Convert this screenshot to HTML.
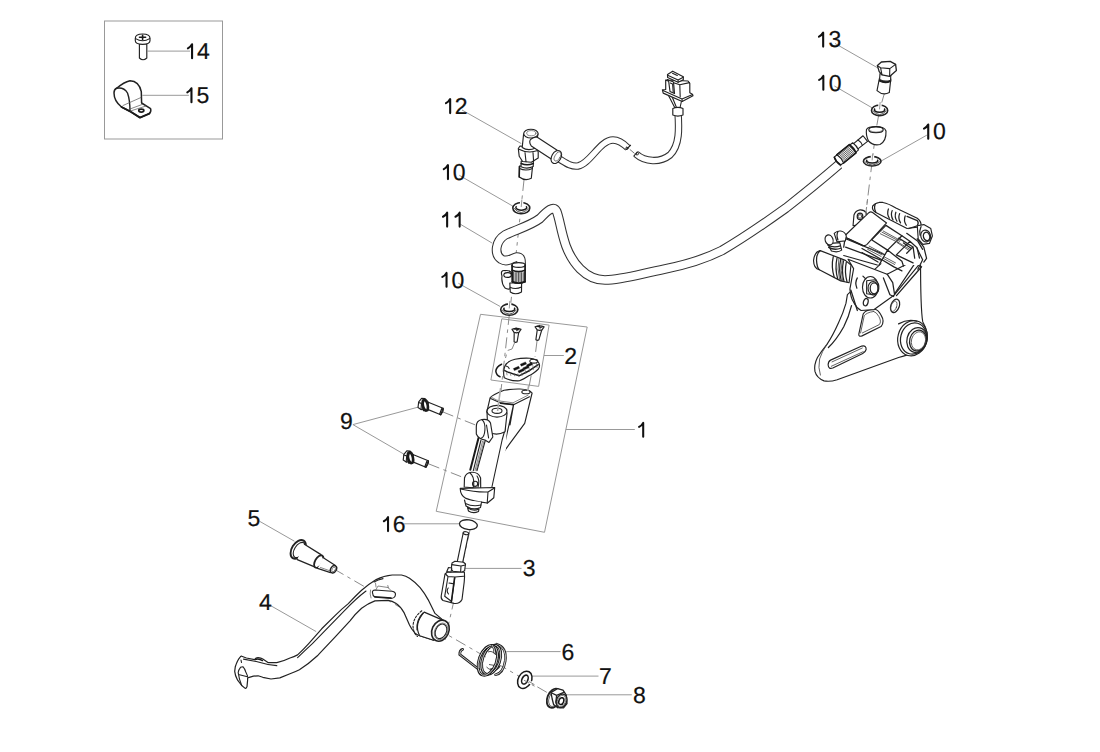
<!DOCTYPE html>
<html><head><meta charset="utf-8">
<style>
html,body{margin:0;padding:0;background:#fff;}
body{width:1100px;height:752px;overflow:hidden;}
svg{display:block;}
text{font-family:"Liberation Sans",sans-serif;font-size:23px;text-rendering:geometricPrecision;fill:#111;stroke:#111;stroke-width:0.2;}
.one{fill:none;stroke:#111;stroke-width:2.1;stroke-linecap:round;stroke-linejoin:round;}
.ld{stroke:#999;stroke-width:1;fill:none;}
.bx{stroke:#999;stroke-width:1;fill:none;}
.p{stroke:#222;stroke-width:1.15;fill:#fff;stroke-linejoin:round;stroke-linecap:round;}
.pn{stroke:#222;stroke-width:1.1;fill:none;stroke-linejoin:round;stroke-linecap:round;}
.pt{stroke:#555;stroke-width:0.7;fill:none;stroke-linejoin:round;stroke-linecap:round;}
.pk{stroke:#1a1a1a;stroke-width:1.6;fill:none;stroke-linejoin:round;stroke-linecap:round;}
.cal .pn{stroke-width:1.25;}
.cal .pt{stroke-width:0.85;stroke:#444;}
.ax{stroke:#8a8a8a;stroke-width:1;fill:none;stroke-dasharray:11 4.5 3.5 4.5;}
</style></head>
<body>
<svg width="1100" height="752" viewBox="0 0 1100 752">
<rect x="0" y="0" width="1100" height="752" fill="#fff"/>
<rect class="bx" x="104.5" y="21" width="118" height="118"/>
<polygon class="bx" points="480.5,314.3 587.2,327 544.5,532.3 436.2,511.3"/>
<polygon class="bx" points="501.8,318.8 549.1,325.1 538.6,386.4 490.9,380"/>
<g class="ax">
<path d="M884.8,92 L879.6,110 L876,130 L872.2,161 L865.5,216"/>
<path d="M524,180 L509,320"/>
<path d="M509.4,314 L499.5,404"/>
<path d="M443,412 L478,426"/>
<path d="M429,464 L462,477"/>
<path d="M470,530 L445,640"/>
<path d="M334,569 L560,700"/>
</g>
<path d="M839,164.5 C828,174 800,197 785.7,208.2 C765,223 740,240 721.9,250.5 C705,259 690,264 665,269 C640,274 622,280 605,280 C585,280 572,262 566,246 C561,232 559.5,218 556.5,211 C553.5,205.5 548,210 540,218.5 C530,226 515,230 505,235 C495.5,241 493.8,254 501.2,259.2 C507.5,263 512,258 517,257 C522,257 521,262 521,266" fill="none" stroke="#333" stroke-width="9.7" stroke-linecap="butt" stroke-linejoin="round"/><path d="M839,164.5 C828,174 800,197 785.7,208.2 C765,223 740,240 721.9,250.5 C705,259 690,264 665,269 C640,274 622,280 605,280 C585,280 572,262 566,246 C561,232 559.5,218 556.5,211 C553.5,205.5 548,210 540,218.5 C530,226 515,230 505,235 C495.5,241 493.8,254 501.2,259.2 C507.5,263 512,258 517,257 C522,257 521,262 521,266" fill="none" stroke="#fff" stroke-width="7.6" stroke-linecap="butt" stroke-linejoin="round"/>
<path d="M556,157 C565,162 570,167 578,166 C590,164 600,140 613,140 C620,140 625,145 628,148" fill="none" stroke="#333" stroke-width="7.4" stroke-linecap="butt" stroke-linejoin="round"/><path d="M556,157 C565,162 570,167 578,166 C590,164 600,140 613,140 C620,140 625,145 628,148" fill="none" stroke="#fff" stroke-width="5.3" stroke-linecap="butt" stroke-linejoin="round"/>
<path d="M636,154 C645,162 660,163 670,155 C680,145 679,128 678,112" fill="none" stroke="#333" stroke-width="7.4" stroke-linecap="butt" stroke-linejoin="round"/><path d="M636,154 C645,162 660,163 670,155 C680,145 679,128 678,112" fill="none" stroke="#fff" stroke-width="5.3" stroke-linecap="butt" stroke-linejoin="round"/>
<path d="M626.5,146.8 L628.5,148.3 M629.8,149.4 L634.5,153.4 M635.5,154.2 L637,155.3" stroke="#777" stroke-width="1" fill="none"/>
<path d="M630.8,145 L626.2,149.6 M637.6,151.5 L633.6,156.4" stroke="#222" stroke-width="1.1" fill="none"/>
<circle cx="626.9" cy="148.3" r="1.1" fill="none" stroke="#222" stroke-width="1"/>
<circle cx="637.4" cy="153.7" r="1.1" fill="none" stroke="#222" stroke-width="1"/>
<g class="ld">
<line x1="147.6" y1="51.1" x2="190" y2="51.1"/>
<line x1="142.4" y1="95.3" x2="188.9" y2="95.3"/>
<line x1="835" y1="43.5" x2="878.6" y2="68.4"/>
<line x1="834.4" y1="86" x2="872.6" y2="108.1"/>
<line x1="926.9" y1="135.1" x2="881.2" y2="161"/>
<line x1="462" y1="110" x2="521.3" y2="143.6"/>
<line x1="459.3" y1="175.3" x2="512.6" y2="206"/>
<line x1="460.3" y1="224.2" x2="492.3" y2="243.2"/>
<line x1="458.4" y1="283.3" x2="500.2" y2="306.5"/>
<line x1="544" y1="355.5" x2="563.8" y2="355.5"/>
<line x1="565.9" y1="429.5" x2="634.8" y2="429.5"/>
<line x1="352.9" y1="424.6" x2="418.6" y2="407"/>
<line x1="352.9" y1="424.6" x2="405.7" y2="455.2"/>
<line x1="404.2" y1="523.8" x2="459.3" y2="523.8"/>
<line x1="259.6" y1="521.3" x2="294.4" y2="541.2"/>
<line x1="465.1" y1="568.4" x2="521.5" y2="568.4"/>
<line x1="270.6" y1="605.6" x2="316.2" y2="631.6"/>
<line x1="506.3" y1="651.6" x2="560.6" y2="651.6"/>
<line x1="532.5" y1="676.1" x2="598.5" y2="676.1"/>
<line x1="566.3" y1="694.8" x2="631.8" y2="694.8"/>
</g>
<g>
<path class="p" d="M139.4,44 V58 Q143,61.5 146.8,58 V44 Z"/>
<path class="p" d="M135.3,38.2 Q135.3,34 142.6,34 Q150,34 150,38.2 V40.8 Q150,44.3 142.6,44.3 Q135.3,44.3 135.3,40.8 Z"/>
<path class="pn" d="M135.6,38.6 Q142.6,43 149.7,38.6"/>
<path class="pk" d="M139.5,37.3 H145.6 M142.6,35.3 V39.5"/>
<path class="p" d="M116.6,88.3 Q124,82 130,80.7 Q139,81 141.3,91.6 L141.6,103 L150.6,108.6 Q151.5,111.5 149.3,113.6 L140,117.6 L130,111.3 L121.5,107 Q114,101 114,93 Q114,89.5 116.6,88.3 Z" style="stroke-width:1.5"/>
<path class="pn" d="M116.6,88.3 Q124,87 127.5,93 Q130,100 130,111.3" style="stroke-width:1.4"/>
<path class="pk" d="M121.5,107 L130,111.3 L140,117.6 L149.3,113.6" style="stroke-width:1.9"/>
<path class="pt" d="M123,105.5 L141,97.5 M130,109 L142.6,104.3 M130.5,111 L146,106"/>
<ellipse class="pk" cx="141.3" cy="110.6" rx="2.6" ry="1.5"/>
</g>
<g>
<path class="p" d="M879.5,78 L877,90.6 Q883,96 889.3,92.6 L890.8,79 Z"/>
<path class="pn" d="M879.3,81 Q885,84 890.6,81.5"/>
<path class="pk" d="M879.6,80.2 Q885,82.8 890.6,80.8"/>
<path class="p" d="M880,73.5 L879.6,79.5 Q885,82.5 890.6,80.2 L890.8,74.5 Z"/>
<path class="p" d="M877.4,65.6 L881.4,62 L890.2,61.4 L895.6,64.4 L896.4,70.6 L889.6,76.4 L882,74.8 L879.2,71.6 Z" style="stroke-width:1.3"/>
<path class="pn" d="M877.4,65.6 L880.6,67.8 L889.8,68.6 L895.6,64.4 M880.6,67.8 L882,74.8 M889.8,68.6 L889.6,76.4" style="stroke-width:1.1"/>
<ellipse cx="879.6" cy="110.4" rx="8.1" ry="5.3" fill="#fff" stroke="#222" stroke-width="1.6"/><path d="M872.80,110.60 Q879.60,118.62 886.40,110.60" fill="none" stroke="#444" stroke-width="0.9"/><ellipse cx="879.60" cy="109.87" rx="5.18" ry="2.38" fill="#fff" stroke="none"/><path d="M875.11,108.68 A5.18,2.38 0 1 0 884.09,108.68" fill="none" stroke="#1a1a1a" stroke-width="1.5"/><rect x="878.25" y="103.90" width="3.4" height="2.92" fill="#fff"/><line x1="880.16" y1="102.10" x2="879.53" y2="109.34" stroke="#999" stroke-width="1"/>
<g transform="translate(837.3,161.2) rotate(-39)">
<path class="p" d="M23,-3.4 L36,-3.6 L36,3.6 L23,3.4 Z"/>
<path class="pn" d="M29.5,-3.5 Q30.8,0 29.5,3.5"/>
<path class="p" d="M19.5,-4.7 L23.6,-4.6 Q24.8,0 23.6,4.6 L19.5,4.7 Z"/>
<path class="p" d="M3.6,-5.3 L19.8,-5.3 L19.8,5.3 L3.6,5.3 Z"/>
<line class="pt" x1="5" y1="-3.8" x2="18.8" y2="-3.8" style="stroke:#444;stroke-width:0.8"/>
<line class="pt" x1="5" y1="-2.3" x2="18.8" y2="-2.3" style="stroke:#444;stroke-width:0.8"/>
<line class="pt" x1="5" y1="-0.8" x2="18.8" y2="-0.8" style="stroke:#444;stroke-width:0.8"/>
<line class="pt" x1="5" y1="0.7" x2="18.8" y2="0.7" style="stroke:#444;stroke-width:0.8"/>
<line class="pt" x1="5" y1="2.2" x2="18.8" y2="2.2" style="stroke:#444;stroke-width:0.8"/>
<line class="pt" x1="5" y1="3.7" x2="18.8" y2="3.7" style="stroke:#444;stroke-width:0.8"/>
<path class="pk" d="M3.6,-5.3 L19.8,-5.3 M19.8,-5.3 Q21.6,0 19.8,5.3 L3.6,5.3" style="stroke-width:1.5"/>
<path class="p" d="M0.2,-5 L3.8,-5.2 Q5.4,0 3.8,5.2 L0.2,5 Q-1.6,0 0.2,-5 Z"/>
<path class="pk" d="M0.2,-5 Q-1.6,0 0.2,5" style="stroke-width:1.6"/>
</g>
<path class="p" d="M866.5,129.5 Q868,126.5 876,126.5 Q884.5,126.5 886,131 Q886.5,141 880,144.5 Q873,146 868.5,141 Q865.6,135 866.5,129.5 Z"/>
<ellipse class="pk" cx="876" cy="129.8" rx="7.2" ry="2.9" style="stroke-width:1.2"/>
<path class="pt" d="M869.5,130.5 Q876,134 882.5,130.5"/>
<ellipse cx="872.2" cy="161.3" rx="8.8" ry="4.7" fill="#fff" stroke="#222" stroke-width="1.6"/><path d="M864.70,161.50 Q872.20,168.59 879.70,161.50" fill="none" stroke="#444" stroke-width="0.9"/><ellipse cx="872.20" cy="160.83" rx="5.63" ry="2.12" fill="#fff" stroke="none"/><path d="M867.32,159.77 A5.63,2.12 0 1 0 877.08,159.77" fill="none" stroke="#1a1a1a" stroke-width="1.5"/><rect x="870.80" y="155.40" width="3.4" height="2.59" fill="#fff"/><line x1="872.68" y1="153.60" x2="872.14" y2="160.36" stroke="#999" stroke-width="1"/>
</g>
<g>
<path class="p" d="M519.6,166 L519.3,177 Q525,181.5 531.3,178.2 L532.6,166 Z"/>
<path class="pn" d="M519.5,168.5 Q526,171.5 532.4,168.4"/>
<path class="pk" d="M519.4,166.6 L519.2,177"/>
<path class="p" d="M521.2,161 L521,166.8 Q527,169.5 533.2,166.6 L533.4,161 Z"/>
<path class="pk" d="M521.2,163.5 Q527,166 533.3,163.5"/>
<path class="p" d="M520,146 L518.3,148.5 L519.2,156.3 L522.6,161.5 L531.3,162.3 L538.2,158 L538.2,152 L536.6,147.5 Z"/>
<path class="pn" d="M519,149.2 Q528,154 537.8,150.6 M525,152.5 L526,161.8 M533,152.5 L533.6,161.3"/>
<path class="p" d="M523.6,134 L522.2,147.5 Q528,151.5 535.5,148 L538,134 Z"/>
<ellipse class="p" cx="530.9" cy="133.6" rx="7.2" ry="4.4"/>
<ellipse class="pt" cx="531.3" cy="133.2" rx="4.6" ry="2.6"/>
<path class="p" d="M537.3,137.3 L557.2,150.2 L551.2,158.9 L531.3,146 Q528,141 531.5,138.8 Q534,136.5 537.3,137.3 Z"/>
<ellipse class="p" cx="556.3" cy="157" rx="4.6" ry="7" transform="rotate(30 556.3 157)"/>
<ellipse class="pt" cx="557.6" cy="156.4" rx="2.6" ry="5.2" transform="rotate(30 557.6 156.4)"/>
<path class="pn" d="M668.5,95.5 L676,110 M672,96.5 L677.5,110 M681.4,101.5 L679.5,110"/>
<path class="p" d="M672.8,108.5 Q677.8,106.3 683,108.5 L683,115 Q677.8,117.2 672.8,115 Z"/>
<path class="p" d="M665.7,80 L688,81 L689.8,83.3 L689.8,92.8 L692.4,94.2 L693,95.7 L682.2,101.5 L663.2,93.1 L662.4,89.9 L665.7,89.5 Z"/>
<path class="pn" d="M663,90.5 L682,99 L692.6,94.6 M682,99 L682.2,101.5 M679.8,84.8 L680.2,96.8 M679.8,84.8 L689.5,82.6 M665.8,80.2 L679.8,84.8"/>
<path class="p" d="M667.5,74.5 L672.7,71.2 L683.3,76.7 L683.3,79.9 L678.1,82.2 L667.6,77.5 Z"/>
<path class="pn" d="M667.6,75.3 L678.1,80 L683.2,77.2 M678.1,80 L678.1,82.2 M672.5,73.2 L677.3,75.5"/>
<path class="p" d="M667.4,79.5 L668.5,80 L670,91.5 L674.5,93.6 L673.5,82 L669.7,80.5"/>
<path class="pn" d="M670.3,83 L672.6,83.9 L673.2,92"/>
<ellipse cx="521.3" cy="208.1" rx="8.5" ry="5.6" fill="#fff" stroke="#222" stroke-width="1.6"/><path d="M514.10,208.30 Q521.30,216.78 528.50,208.30" fill="none" stroke="#444" stroke-width="0.9"/><ellipse cx="521.30" cy="207.54" rx="5.44" ry="2.52" fill="#fff" stroke="none"/><path d="M516.59,206.28 A5.44,2.52 0 1 0 526.01,206.28" fill="none" stroke="#1a1a1a" stroke-width="1.5"/><rect x="519.95" y="201.30" width="3.4" height="3.08" fill="#fff"/><line x1="521.86" y1="199.50" x2="521.23" y2="206.98" stroke="#999" stroke-width="1"/>
<ellipse cx="509.3" cy="309.6" rx="8.6" ry="5.7" fill="#fff" stroke="#222" stroke-width="1.6"/><path d="M502.00,309.80 Q509.30,318.44 516.60,309.80" fill="none" stroke="#444" stroke-width="0.9"/><ellipse cx="509.30" cy="309.03" rx="5.50" ry="2.56" fill="#fff" stroke="none"/><path d="M504.53,307.75 A5.50,2.56 0 1 0 514.07,307.75" fill="none" stroke="#1a1a1a" stroke-width="1.5"/><rect x="507.95" y="302.70" width="3.4" height="3.14" fill="#fff"/><line x1="509.86" y1="300.90" x2="509.23" y2="308.46" stroke="#999" stroke-width="1"/>
<path class="p" d="M502,276 Q500,270 505,270.6 Q511,270 512.5,275 L513,287 Q509,290.5 505,288 Q501,283 502,276 Z"/>
<ellipse class="pk" cx="507.6" cy="275" rx="3.8" ry="2.4" style="stroke-width:1.1"/>
<path class="p" d="M509.8,283 L510.3,292 Q515.5,295.5 521.5,292 L521.6,283 Z"/>
<path class="pn" d="M510,287.2 Q515.5,290 521.5,287"/>
<path class="p" d="M512,265 L512.3,282 Q518.5,285 525,282 L525.2,265 Z"/>
<ellipse class="p" cx="518.6" cy="265" rx="6.6" ry="2.4"/>
<path class="pk" d="M512.2,270.2 Q518.6,273 525.1,270.2"/>
<line x1="513.6" y1="271.6" x2="513.6" y2="281.6" stroke="#333" stroke-width="0.9"/>
<line x1="515.2" y1="272.2" x2="515.2" y2="282.4" stroke="#333" stroke-width="0.9"/>
<line x1="516.8" y1="272.2" x2="516.8" y2="282.4" stroke="#333" stroke-width="0.9"/>
<line x1="518.4" y1="272.2" x2="518.4" y2="282.4" stroke="#333" stroke-width="0.9"/>
<line x1="520.0" y1="272.2" x2="520.0" y2="282.4" stroke="#333" stroke-width="0.9"/>
<line x1="521.6" y1="272.2" x2="521.6" y2="282.4" stroke="#333" stroke-width="0.9"/>
<line x1="523.2" y1="272.2" x2="523.2" y2="282.4" stroke="#333" stroke-width="0.9"/>
<line x1="524.8" y1="271.6" x2="524.8" y2="281.6" stroke="#333" stroke-width="0.9"/>
<path class="pk" d="M512.1,265 L512.3,282 M525.1,265 L525,282" style="stroke-width:1.5"/>
<path class="pk" d="M512.3,281.5 Q518.6,284.5 525,281.5"/>
</g>
<g>
<path class="p" d="M514.2,332.0 L514.1,341.8 Q515.6,343.1 517.1,341.8 L518.8,332.0 Z"/>
<path class="p" d="M512.0,329.3 Q516.5,327.5 521.0,329.3 L518.9,332.3 Q516.5,333.3 514.1,332.3 Z"/>
<path class="pk" d="M514.0,328.9 L519.0,329.7 M516.0,327.9 L517.0,330.7" style="stroke-width:1.1"/>
<path class="p" d="M537.3000000000001,329.5 L535.9,339.7 Q537.4,341.0 538.9,339.7 L541.9,329.5 Z"/>
<path class="p" d="M535.1,326.8 Q539.6,325 544.1,326.8 L542.0,329.8 Q539.6,330.8 537.2,329.8 Z"/>
<path class="pk" d="M537.1,326.4 L542.1,327.2 M539.1,325.4 L540.1,328.2" style="stroke-width:1.1"/>
<path class="ax" d="M514.5,343 L512,349 L507.5,350.5 L505,360"/>
<path class="ax" d="M537,341 L535,357 M531.2,375.5 L528.4,390"/>
<path class="p" d="M504.2,368.5 Q505.5,361.5 515,359.2 Q522,357.8 529.8,358.2 Q536.5,358.8 539,363.2 Q540.3,366.5 538.4,369 Q533,374.2 528.8,375.8 Q523,379.6 519.5,380.8 Q511.5,381.2 504.3,377.8 Q503,373 504.2,368.5 Z"/>
<path d="M507.5,360.6 L506,362" stroke="#fff" stroke-width="2.2" fill="none"/>
<path class="pk" d="M504.8,370.6 Q511,373.8 519.5,375.7 Q529,371.5 538.2,364.6" style="stroke-width:1.4"/>
<line x1="506.5" y1="372.3" x2="507.1" y2="375.3" stroke="#666" stroke-width="0.7"/>
<line x1="510.2" y1="372.7" x2="510.9" y2="375.8" stroke="#666" stroke-width="0.7"/>
<line x1="514.0" y1="373.1" x2="514.6" y2="376.2" stroke="#666" stroke-width="0.7"/>
<line x1="517.8" y1="373.5" x2="518.4" y2="376.7" stroke="#666" stroke-width="0.7"/>
<line x1="521.5" y1="372.7" x2="522.1" y2="376.1" stroke="#666" stroke-width="0.7"/>
<line x1="525.2" y1="370.2" x2="525.9" y2="374.1" stroke="#666" stroke-width="0.7"/>
<line x1="529.0" y1="367.7" x2="529.6" y2="372.1" stroke="#666" stroke-width="0.7"/>
<line x1="532.8" y1="365.2" x2="533.4" y2="370.1" stroke="#666" stroke-width="0.7"/>
<line x1="536.5" y1="362.7" x2="537.1" y2="368.1" stroke="#666" stroke-width="0.7"/>
<path class="pk" d="M501.6,364.2 Q496.2,366.8 495.8,371.2 Q496.4,375.5 500,376.8" style="stroke-width:1.5"/>
<path class="pn" d="M506,366 Q508.5,366.6 509.2,368.6"/>
<ellipse class="pn" cx="533.8" cy="361.2" rx="4" ry="1.9"/>
<path d="M513.4,368.6 l5.2,-2.3 l1.0,2.0 l-5.2,2.3 Z" fill="#111" stroke="#111" stroke-width="0.4"/>
<path d="M520.3,364.2 l5.2,-2.3 l1.0,2.0 l-5.2,2.3 Z" fill="#111" stroke="#111" stroke-width="0.4"/>
<path d="M526.5,364.9 l5.2,-2.3 l1.0,2.0 l-5.2,2.3 Z" fill="#111" stroke="#111" stroke-width="0.4"/>
<path d="M518.0,370.9 l5.2,-2.3 l1.0,2.0 l-5.2,2.3 Z" fill="#111" stroke="#111" stroke-width="0.4"/>
<path d="M522.9,367.9 l5.2,-2.3 l1.0,2.0 l-5.2,2.3 Z" fill="#111" stroke="#111" stroke-width="0.4"/>
<path class="p" d="M490.1,397.8 Q492,395 504,390.3 Q512,388.8 520,389 Q529.5,389.3 532.1,393 L524.7,423.3 L506,448.8 L500.7,457.3 L486.9,411.6 Z"/>
<path class="pn" d="M490.6,398.5 L500.7,403.1 L513.5,404.7 L529.5,396.7 M513.5,404.7 L500.7,461.6 M513.5,405.5 L510,425"/>
<path class="pt" d="M491.5,397.3 Q497,400.8 501,401.2 L513,402.8 L528,395.2"/>
<ellipse class="pn" cx="526" cy="392" rx="4.2" ry="1.8"/>
<path d="M487.5,412 L478.5,436 L468,480 L470,490 L494,490 L506,448.8 L507.1,412.7 Z" fill="#fff" stroke="none"/>
<path class="pn" d="M505.5,428 L502.1,440 L491.9,487"/>
<path class="pk" d="M478.5,438 L470.3,469.8" style="stroke-width:2"/>
<path class="pn" d="M481,440 L473.3,470.7 M485.4,440 L477,470.7"/>
<path class="pt" d="M482.6,441 L475,470.5 M484,441 L476.2,470.5"/>
<path class="p" d="M487,411.6 L487.8,431.5 Q496,436.6 505,431.8 L507.1,412.7 Z"/>
<ellipse class="p" cx="497" cy="411.2" rx="10" ry="5.9"/>
<ellipse class="pn" cx="497" cy="410.8" rx="5" ry="2.6"/>
<path class="p" d="M476.3,427 Q476,420.5 482,419.5 Q488.5,418.5 490.5,423 L492.8,437 L489,442.4 L485,440 Q478.5,439 476.3,434 Z"/>
<path class="pn" d="M482,419.8 Q485.5,422.5 484.9,430 Q484.4,437 481.5,438 M486.5,425 L488.6,438"/>
<path class="p" d="M464.5,478 Q466,472.5 471.5,472.3 Q478.5,472 480.6,478 L480.7,488.5 L464.2,487 Z"/>
<path class="pn" d="M470,473 Q474,476 473.8,484 Q473.5,489 471,489.5 M477,476 Q480,480 478,487"/>
<circle class="pn" cx="475.1" cy="483.8" r="2.6"/>
<path class="p" d="M460.2,488.4 L494.7,487.5 L493.8,497.7 L487.5,503 Q474,501.5 466,498.4 Q460.4,495.5 460.2,488.4 Z"/>
<path class="pn" d="M460.5,489 Q476,492.5 488,492 L494.5,488 M488,492 L487.2,503.3"/>
<path class="p" d="M464.5,500 L466,506 Q473,511 480.5,507.5 L481.5,502"/>
<path class="pn" d="M465.5,503.5 Q472.5,507 481,505"/>
<path class="p" d="M467.5,507.5 Q473,512 479,509 L478.5,511.5 Q473,514 468.5,511 Z"/>
<path d="M500.6,388 L497.6,411" stroke="#aaa" stroke-width="1.6" fill="none"/>
<path d="M528.8,385 L527.8,391" stroke="#aaa" stroke-width="1.6" fill="none"/>
<path class="pk" d="M500.7,403.1 L513.5,404.7" style="stroke-width:1.7"/>
<g transform="translate(0,0)">
<path class="p" d="M428.3,402.2 L443.1,408.3 L440.7,414.8 L425.8,408.6 Z"/>
<path class="pk" d="M441.8,408.5 L439.6,414.3 M443.1,408.3 Q444,411 440.7,414.8" style="stroke-width:1.2"/>
<path class="p" d="M418,407.6 L418.7,401.8 L421.6,398.3 L425,398.6 L425.2,408.8 L421,409.6 Z"/>
<path class="pn" d="M418.5,402.5 L421.5,403.4 L425,403 M421.5,403.4 L421,409.4"/>
<ellipse class="pk" cx="425.3" cy="405.2" rx="2.4" ry="5.5" transform="rotate(-12 425.3 405.2)" style="stroke-width:2.6;fill:#fff"/>
<path class="pk" d="M424,400.5 Q421.8,405 423.6,410.5" style="stroke-width:1.6"/>
<path class="pn" d="M426.5,400.5 Q428.6,402 428.3,404"/>
</g>
<g transform="translate(-14.8,52.5)">
<path class="p" d="M428.3,402.2 L443.1,408.3 L440.7,414.8 L425.8,408.6 Z"/>
<path class="pk" d="M441.8,408.5 L439.6,414.3 M443.1,408.3 Q444,411 440.7,414.8" style="stroke-width:1.2"/>
<path class="p" d="M418,407.6 L418.7,401.8 L421.6,398.3 L425,398.6 L425.2,408.8 L421,409.6 Z"/>
<path class="pn" d="M418.5,402.5 L421.5,403.4 L425,403 M421.5,403.4 L421,409.4"/>
<ellipse class="pk" cx="425.3" cy="405.2" rx="2.4" ry="5.5" transform="rotate(-12 425.3 405.2)" style="stroke-width:2.6;fill:#fff"/>
<path class="pk" d="M424,400.5 Q421.8,405 423.6,410.5" style="stroke-width:1.6"/>
<path class="pn" d="M426.5,400.5 Q428.6,402 428.3,404"/>
</g>
<ellipse class="p" cx="468.4" cy="524.7" rx="9" ry="4.8" transform="rotate(8 468.4 524.7)" style="stroke-width:1.3"/>
<path class="p" d="M463.2,533 L457,562.8 L462.5,563.3 L468.6,533.8 Q466,532 463.2,533 Z"/>
<ellipse class="p" cx="465.9" cy="533.2" rx="2.8" ry="1.5" transform="rotate(10 465.9 533.2)"/>
<path class="p" d="M452,563 L455,561.2 L463.5,562.2 L465.5,564 L464.6,570.8 L461.8,572.3 L453,571.3 L451.2,569 Z"/>
<path class="pn" d="M451.8,564.6 L461,566 L465.2,565 M461,566 L460.6,572.3"/>
<path class="p" d="M447.5,572 L464.4,572.2 Q464.8,576 464.2,582 L462,599.5 Q459.5,604.2 454,603.4 L443,600.5 Q440.8,599 441.2,596 L445,574 Z"/>
<path class="pn" d="M445.5,574 L448,576.5 L455,577 L463.7,576.2 M455,577 L451.6,601.5 M448,576.5 L444.7,596.3 L451.6,601.5"/>
<path class="pk" d="M454.5,578 L451.3,602" style="stroke-width:1.5"/>
<path class="pn" d="M449,583 L452.6,583.6 M448.2,588 Q446,591 448.5,594"/>
<path class="p" d="M446.8,571.5 L448.5,567.5 L451.8,568 L451,572 Z"/>
</g>
<g>
<ellipse class="p" cx="298.2" cy="549.4" rx="6.3" ry="10.3" transform="rotate(32 298.2 549.4)" style="stroke-width:1.9"/>
<ellipse class="pn" cx="299.2" cy="550" rx="4.7" ry="8.5" transform="rotate(32 299.2 550)"/>
<path d="M304.4,544.2 L322.6,555.6 L315.2,567.2 L297.3,559.6 Q300,552 304.4,544.2 Z" fill="#fff" stroke="none"/>
<path class="pn" d="M304.4,544.2 L321,554.6 M297.3,559.6 L315.2,567.2" style="stroke-width:1.3"/>
<ellipse class="p" cx="318.8" cy="561.6" rx="3.7" ry="6.9" transform="rotate(30 318.8 561.6)" style="stroke-width:1.8"/>
<path d="M322.9,557.6 L335.9,565.9 L330.5,572.6 L317.6,568.4 Q321,563 322.9,557.6 Z" fill="#fff" stroke="none"/>
<path class="pn" d="M322.9,557.6 L335.4,565.5 M317.6,568.4 L330.5,572.6" style="stroke-width:1.2"/>
<path class="pt" d="M320.5,567.5 L331,571.2"/>
<ellipse class="p" cx="333.5" cy="569.3" rx="2.8" ry="3.9" transform="rotate(30 333.5 569.3)" style="stroke-width:1.4"/>
<ellipse class="pt" cx="333.7" cy="569.4" rx="1.6" ry="2.5" transform="rotate(30 333.7 569.4)"/>
<path class="p" d="M240,657.4 Q240.5,656 241.7,656.2 L246.4,658 L254.6,659.7 Q256,657.6 258.1,657.7 Q261,658 262.8,659.1 L268,662.6 L276.8,662.6 Q284,661 290,658 Q294,656.8 297.6,654.9 Q303,650 308.7,643.7 L321.7,628.8 L335,615.6 Q341,609.5 348.3,603.6 Q355,596.5 361.6,590.3 Q369,584 376.2,579.6 Q384,575.5 392.2,575 L401.5,575 Q406,576 409.5,578.3 Q415,582 420.1,587.6 Q424.5,593 428.1,599.6 L435,613.4 L443.3,620.4 L433.7,640.2 L419.7,635.8 Q416.5,634.5 414.8,632.8 Q411.5,629 409.5,624.9 L404.2,612.9 Q400.5,606.5 396.2,603.6 Q392,600.5 388.2,600.3 L374.9,600.9 Q368,603.5 361.6,608.2 Q355,614 350,620.8 L335,637.2 L318,655.2 Q309,663.5 299.4,669.8 Q295,672 290,673.8 L279.8,677.9 L271,679 L262.8,677.3 L258.1,675.8 L253.4,676.1 L247.6,677.9 L247.6,680.2 L247,686.6 Q246.3,688.6 245.2,688.4 L241.7,685.5 L237.6,680.2 Q235,675.5 234.7,671.4 L235.3,666.7 Q237.5,660 240,657.4 Z" style="stroke-width:1.2"/>
<path class="pn" d="M297.6,657.7 Q305,650.5 312.4,643.7 L345,610.2 Q356,598.5 366,591 M374,582 Q378,579.6 383,578.6"/>
<path class="pn" d="M243.5,659.1 L256.3,661.5 Q266,664.6 276.8,665.6"/>
<path class="pk" d="M255,659.6 Q258.5,658 262.5,660.6" style="stroke-width:1.3"/>
<path class="pn" d="M240.5,667.3 L242.9,666.7 Q245,669 245.8,672 L247.6,676.1 M240.5,667.3 Q238.3,670 238.2,672.6 Q239,679 241.7,685.5 M238.5,674.5 L247.4,676.8 M241,660 L241.5,662.5"/>
<path class="p" d="M372.5,592.8 Q372,590.2 375,590 L392,591.2 Q396,592 395.4,595 Q394.8,598.3 391,598.4 L375,597.3 Q372.6,596 372.5,592.8 Z"/>
<path class="pk" d="M374.5,596.6 L391,597.9" style="stroke-width:1.3"/>
<path class="pt" d="M370.5,590 Q369.5,594 371,598 M376,589.6 L378,586 L388,587.5 L391,590.5"/>
<path class="pt" d="M375.5,583 L376,587 M387.8,585.5 L388.5,588"/>
<path class="p" d="M424.2,612.1 L443.3,620.4 L433.7,640.2 L419.7,635.8 Q413.5,624 424.2,612.1 Z"/>
<path class="pn" d="M421.8,610.8 Q413.5,617 413,626 Q413.3,633 417.5,636.5" style="stroke-dasharray:2 1.6"/>
<path class="pn" d="M423,613 Q416,620 417,630"/>
<ellipse class="p" cx="440.4" cy="630.7" rx="8.4" ry="10.9" transform="rotate(25 440.4 630.7)" style="stroke-width:1.6"/>
<ellipse class="pn" cx="441" cy="631.3" rx="5.4" ry="7.6" transform="rotate(25 441 631.3)"/>
<ellipse class="pt" cx="441.1" cy="631.4" rx="6.4" ry="8.7" transform="rotate(25 441.1 631.4)"/>
<path d="M462.6,649.3 Q459.6,650 459.8,654.6 L479,669.5" fill="none" stroke="#222" stroke-width="2.8" stroke-linecap="round" /><path d="M462.6,649.3 Q459.6,650 459.8,654.6 L479,669.5" fill="none" stroke="#fff" stroke-width="0.7" stroke-linecap="round" />
<ellipse cx="493" cy="659.8" rx="7" ry="12.5" transform="rotate(20 493 659.8)" fill="#fff" stroke="none"/>
<path d="M488,652 Q492,650 496,655 M486.5,667 Q491,672 497.5,668 M489,664.5 L498,666" stroke="#555" stroke-width="1" fill="none"/>
<path d="M494,650 Q500,652 499.5,662 M490.5,668.5 Q496,672 500,666" stroke="#333" stroke-width="1.4" fill="none"/>
<path d="M496.6,644.2 Q507,647 505.2,661 Q503.2,673.5 495.5,674.8" fill="none" stroke="#222" stroke-width="2.6" stroke-linecap="round" /><path d="M496.6,644.2 Q507,647 505.2,661 Q503.2,673.5 495.5,674.8" fill="none" stroke="#fff" stroke-width="0.8" stroke-linecap="round" />
<ellipse cx="491.2" cy="659.8" rx="8.6" ry="15.2" transform="rotate(20 491.2 659.8)" fill="none" stroke="#1a1a1a" stroke-width="2.8"/>
<ellipse cx="491.2" cy="659.8" rx="8.6" ry="15.2" transform="rotate(20 491.2 659.8)" fill="none" stroke="#fff" stroke-width="0.7"/>
<ellipse cx="487.8" cy="660.4" rx="8.7" ry="15.6" transform="rotate(20 487.8 660.4)" fill="none" stroke="#1a1a1a" stroke-width="2.8"/>
<ellipse cx="487.8" cy="660.4" rx="8.7" ry="15.6" transform="rotate(20 487.8 660.4)" fill="none" stroke="#fff" stroke-width="0.7"/>
<path d="M492.5,645.5 Q494.5,648 494.8,653" fill="none" stroke="#222" stroke-width="2.4" stroke-linecap="round" /><path d="M492.5,645.5 Q494.5,648 494.8,653" fill="none" stroke="#fff" stroke-width="0.8" stroke-linecap="round" />
<ellipse cx="524.8" cy="679.8" rx="6.6" ry="9.1" transform="rotate(28 524.8 679.8)" fill="#fff" stroke="#1a1a1a" stroke-width="1.5"/>
<ellipse cx="524.9" cy="679.6" rx="2.9" ry="4.7" transform="rotate(25 524.9 679.6)" fill="#fff" stroke="#1a1a1a" stroke-width="1.6"/>
<path d="M524,680.2 L534.5,686.2" stroke="#888" stroke-width="1" fill="none"/>
<rect x="529.5" y="681.2" width="3" height="3.2" fill="#fff" transform="rotate(30 531 682.8)"/>
<path d="M529.2,681.6 L534.5,684.7" stroke="#888" stroke-width="1" fill="none"/>
<ellipse cx="553.8" cy="698.2" rx="6.4" ry="10" transform="rotate(22 553.8 698.2)" fill="#fff" stroke="#222" stroke-width="1.9"/>
<ellipse cx="554.3" cy="698.3" rx="5" ry="8.5" transform="rotate(22 554.3 698.3)" fill="none" stroke="#555" stroke-width="0.9"/>
<path class="p" d="M551,692.5 L557.5,688.6 L563,690.2 L566.3,695.2 L567,703.5 L563.5,707.8 L557.5,707.6 L553.6,704.5 L552.2,699 Z" style="stroke-width:1.3"/>
<path class="pn" d="M551.2,692.8 L556.6,695.4 L563.8,692.2 M556.6,695.4 L555.8,702 L557.5,707.6" style="stroke-width:1.2"/>
<ellipse cx="561.6" cy="700.8" rx="5.1" ry="6.9" transform="rotate(20 561.6 700.8)" fill="#fff" stroke="#222" stroke-width="1.4"/>
<ellipse cx="561.5" cy="700.9" rx="4" ry="5.7" transform="rotate(20 561.5 700.9)" fill="none" stroke="#666" stroke-width="0.8"/>
<ellipse cx="561.3" cy="701.1" rx="2.4" ry="3.5" transform="rotate(20 561.3 701.1)" fill="#fff" stroke="#111" stroke-width="1.5"/>
</g>
<g class="cal">
<g transform="translate(805,280) scale(0.14624)">
<path class="p" vector-effect="non-scaling-stroke" d="M290,100 L280,160 Q260,230 230,290 Q190,380 150,440 Q110,490 85,530 Q60,580 68,625 Q80,670 130,690 Q170,698 220,682 L640,530 Q700,515 720,505 Q800,500 830,430 Q850,360 805,285 Q790,200 790,-150 L560,-150 Z" />
<path class="pn" vector-effect="non-scaling-stroke" d="M318,175 Q300,250 265,320 Q215,410 160,462" />
<path class="pt" vector-effect="non-scaling-stroke" d="M150,440 Q115,490 100,540 Q88,600 105,650" />
<path class="p" vector-effect="non-scaling-stroke" d="M175,548 L388,452 Q420,445 418,475 Q412,495 395,502 L190,602 Q160,612 158,580 Q160,555 175,548 Z" />
<path class="pt" vector-effect="non-scaling-stroke" d="M185,560 L392,465 M180,590 L398,490" />
<path class="p" vector-effect="non-scaling-stroke" d="M368,370 L398,232 Q410,205 470,198 Q500,200 520,240 Q548,285 520,318 L390,382 Q365,390 368,370 Z" />
<path class="pt" vector-effect="non-scaling-stroke" d="M380,362 L405,245 Q420,222 470,215 M470,215 Q490,220 505,250 Q525,285 508,305 L392,362" />
<ellipse class="p" vector-effect="non-scaling-stroke" cx="735" cy="398" rx="100" ry="122" transform="rotate(15 735 398)" />
<ellipse class="pn" vector-effect="non-scaling-stroke" cx="742" cy="400" rx="88" ry="108" transform="rotate(15 742 400)" />
<ellipse class="pn" vector-effect="non-scaling-stroke" cx="765" cy="410" rx="68" ry="86" transform="rotate(15 765 410)" />
<ellipse class="pn" vector-effect="non-scaling-stroke" cx="772" cy="414" rx="56" ry="72" transform="rotate(15 772 414)" />
<ellipse class="pt" vector-effect="non-scaling-stroke" cx="776" cy="416" rx="48" ry="63" transform="rotate(15 776 416)" />
<path class="pn" vector-effect="non-scaling-stroke" d="M640,300 Q700,265 765,282" />
</g>
<g transform="translate(835,250) scale(0.09311)">
<path class="p" vector-effect="non-scaling-stroke" d="M140,100 L200,200 L160,420 Q170,520 200,560 Q230,620 280,650 L420,640 L600,510 L640,480 L900,160 L870,100 L560,260 Z" />
<path class="pn" vector-effect="non-scaling-stroke" d="M860,140 L640,470 M930,180 L660,490 M170,430 L240,650" />
<ellipse class="pn" vector-effect="non-scaling-stroke" cx="330" cy="560" rx="25" ry="40" transform="rotate(15 330 560)" />
<ellipse class="pn" vector-effect="non-scaling-stroke" cx="645" cy="600" rx="45" ry="75" transform="rotate(20 645 600)" />
<ellipse class="pt" vector-effect="non-scaling-stroke" cx="632" cy="605" rx="30" ry="58" transform="rotate(20 632 605)" />
<path class="pn" vector-effect="non-scaling-stroke" d="M560,260 L620,350 L640,480 M520,300 L590,480 L630,500" />
<ellipse class="p" vector-effect="non-scaling-stroke" cx="380" cy="400" rx="85" ry="115" transform="rotate(0 380 400)" />
<path class="p" vector-effect="non-scaling-stroke" d="M340,330 L430,320 Q480,360 470,420 Q460,470 410,480 L340,470 Z" />
<ellipse class="p" vector-effect="non-scaling-stroke" cx="410" cy="410" rx="55" ry="72" transform="rotate(0 410 410)" />
<ellipse class="pn" vector-effect="non-scaling-stroke" cx="420" cy="412" rx="42" ry="58" transform="rotate(0 420 412)" />
<path class="pn" vector-effect="non-scaling-stroke" d="M240,300 Q210,350 235,410 M300,280 L330,310" />
</g>
<g transform="translate(840,195) scale(0.09311)">
<path class="p" vector-effect="non-scaling-stroke" d="M140,330 L150,215 Q165,170 215,160 Q260,158 280,190 L300,300 Z" />
<ellipse class="pn" vector-effect="non-scaling-stroke" cx="215" cy="230" rx="30" ry="34" transform="rotate(0 215 230)" />
<ellipse class="pt" vector-effect="non-scaling-stroke" cx="215" cy="230" rx="18" ry="20" transform="rotate(0 215 230)" />
<path class="p" vector-effect="non-scaling-stroke" d="M350,120 Q370,88 420,80 L460,80 Q520,90 600,140 L830,250 Q880,290 870,340 L720,360 L380,185 Q340,160 350,120 Z" />
<path class="pn" vector-effect="non-scaling-stroke" d="M380,95 Q360,140 385,185" />
<path class="pn" vector-effect="non-scaling-stroke" d="M520,150 Q500,200 530,250 M560,168 Q540,218 570,268 M600,185 Q582,235 612,282 M640,200 Q620,250 650,300 M700,225 Q680,275 712,325" />
<path class="pn" vector-effect="non-scaling-stroke" d="M720,230 L830,275 Q850,300 830,330 L740,360" />
<path class="p" vector-effect="non-scaling-stroke" d="M830,330 L900,318 L975,360 L992,440 L960,520 L890,530 L840,470 Z" />
<ellipse class="p" vector-effect="non-scaling-stroke" cx="920" cy="440" rx="52" ry="64" transform="rotate(-15 920 440)" />
<ellipse class="pn" vector-effect="non-scaling-stroke" cx="930" cy="445" rx="34" ry="46" transform="rotate(-15 930 445)" />
<path class="pn" vector-effect="non-scaling-stroke" d="M870,340 Q850,380 860,430" />
<path vector-effect="non-scaling-stroke" d="M60,430 L330,180 L500,300 L650,430 L760,500 L830,470 L900,560 L930,680 L870,752 L700,752 L480,752 L40,560 Z" fill="#fff" stroke="none"/>
<path class="pn" vector-effect="non-scaling-stroke" d="M40,560 L60,430 M830,470 L900,560 L930,680 L900,720" />
<path class="p" vector-effect="non-scaling-stroke" d="M60,430 L310,190 Q330,175 350,188 L500,300 L290,530 Q270,550 245,540 L70,460 Q50,445 60,430 Z" />
<path class="pn" vector-effect="non-scaling-stroke" d="M75,465 L245,545" />
<path class="pn" vector-effect="non-scaling-stroke" d="M60,470 L480,640 M60,560 L440,700 M40,650 L400,752" />
</g>
<g transform="translate(862,215) scale(0.07981)">
<path class="pn" vector-effect="non-scaling-stroke" d="M120,310 L300,130 L500,260 L320,440 Z" style="stroke-width:1.3"/>
<path class="pt" vector-effect="non-scaling-stroke" d="M250,215 L470,330 M230,235 L455,345 M265,200 L480,318" />
<path class="pn" vector-effect="non-scaling-stroke" d="M500,260 L600,330 L690,410 L720,540 M600,330 L430,500 M320,440 L500,580 L520,640 M430,500 L640,600 M320,440 L215,625" style="stroke-width:1.25"/>
<path class="pn" vector-effect="non-scaling-stroke" d="M460,290 L640,400 L560,480 M640,400 L660,540 M520,350 L620,420" />
<path class="pt" vector-effect="non-scaling-stroke" d="M430,330 L600,430 M440,345 L590,445 M90,390 L260,480 M80,410 L250,500 M70,430 L240,520 M270,520 L420,600 M260,540 L410,620" />
<path class="pn" vector-effect="non-scaling-stroke" d="M0,420 L250,560 L400,650 L500,700 M0,470 L200,590 M690,420 L760,560 L700,680" />
<path class="pn" vector-effect="non-scaling-stroke" d="M560,230 L700,330 L760,430" />
</g>
<g transform="translate(810,225) scale(0.09311)">
<path class="p" vector-effect="non-scaling-stroke" d="M260,90 Q290,60 330,65 Q380,75 390,120 L380,170 L290,180 Z" />
<path class="pn" vector-effect="non-scaling-stroke" d="M300,70 Q280,110 300,160" />
<path class="p" vector-effect="non-scaling-stroke" d="M190,200 L320,190 L340,270 Q300,300 230,280 Z" />
<ellipse class="p" vector-effect="non-scaling-stroke" cx="205" cy="160" rx="42" ry="55" transform="rotate(-20 205 160)" />
<path class="pn" vector-effect="non-scaling-stroke" d="M190,215 Q250,250 325,225 M200,240 Q260,275 330,250" />
<path class="p" vector-effect="non-scaling-stroke" d="M110,275 L380,380 L440,430 L420,620 L330,600 L100,480 Q40,470 38,380 Q50,285 110,275 Z" />
<path class="pn" vector-effect="non-scaling-stroke" d="M110,275 Q70,300 70,380 Q75,460 100,480" />
<path class="pn" vector-effect="non-scaling-stroke" d="M250,340 Q225,450 260,560 M290,355 Q265,465 298,580 M330,370 Q305,480 335,595 M360,385 Q335,495 365,605 M390,400 Q368,505 398,612" />
<path class="pt" vector-effect="non-scaling-stroke" d="M310,362 Q288,470 318,588 M345,378 Q322,488 350,600" />
</g>
<path d="M867.6,199 L865.6,215.5" stroke="#8a8a8a" stroke-width="1" fill="none" stroke-dasharray="6 2 2 2"/>
</g>
<g>
<path class="one" transform="translate(186.80,43.20) scale(0.994)" d="M1.1,5.2 Q3.9,3.8 5.3,1.1 V15.2"/>
<text x="196.99" y="59.30">4</text>
<path class="one" transform="translate(186.20,87.20) scale(0.994)" d="M1.1,5.2 Q3.9,3.8 5.3,1.1 V15.2"/>
<text x="196.40" y="103.04">5</text>
<path class="one" transform="translate(817.90,31.50) scale(0.994)" d="M1.1,5.2 Q3.9,3.8 5.3,1.1 V15.2"/>
<text x="828.50" y="47.34">3</text>
<path class="one" transform="translate(818.10,74.80) scale(0.988)" d="M1.1,5.2 Q3.9,3.8 5.3,1.1 V15.2"/>
<text x="828.70" y="90.54">0</text>
<path class="one" transform="translate(922.90,123.40) scale(1.006)" d="M1.1,5.2 Q3.9,3.8 5.3,1.1 V15.2"/>
<text x="933.00" y="139.44">0</text>
<path class="one" transform="translate(444.90,98.00) scale(0.994)" d="M1.1,5.2 Q3.9,3.8 5.3,1.1 V15.2"/>
<text x="454.76" y="114.10">2</text>
<path class="one" transform="translate(442.70,164.00) scale(0.994)" d="M1.1,5.2 Q3.9,3.8 5.3,1.1 V15.2"/>
<text x="452.80" y="179.84">0</text>
<path class="one" transform="translate(441.90,211.60) scale(0.988)" d="M1.1,5.2 Q3.9,3.8 5.3,1.1 V15.2"/>
<path class="one" transform="translate(454.40,211.60) scale(0.988)" d="M1.1,5.2 Q3.9,3.8 5.3,1.1 V15.2"/>
<path class="one" transform="translate(441.30,271.80) scale(0.988)" d="M1.1,5.2 Q3.9,3.8 5.3,1.1 V15.2"/>
<text x="451.50" y="287.54">0</text>
<text x="564.16" y="363.90">2</text>
<path class="one" transform="translate(638.00,421.80) scale(0.981)" d="M1.1,5.2 Q3.9,3.8 5.3,1.1 V15.2"/>
<text x="340.08" y="429.00">9</text>
<path class="one" transform="translate(382.80,516.10) scale(0.988)" d="M1.1,5.2 Q3.9,3.8 5.3,1.1 V15.2"/>
<text x="392.66" y="531.94">6</text>
<text x="247.60" y="525.54">5</text>
<text x="522.80" y="576.34">3</text>
<text x="258.89" y="610.20">4</text>
<text x="561.56" y="659.74">6</text>
<text x="599.06" y="684.10">7</text>
<text x="632.88" y="702.84">8</text>
</g>
</svg>
</body></html>
